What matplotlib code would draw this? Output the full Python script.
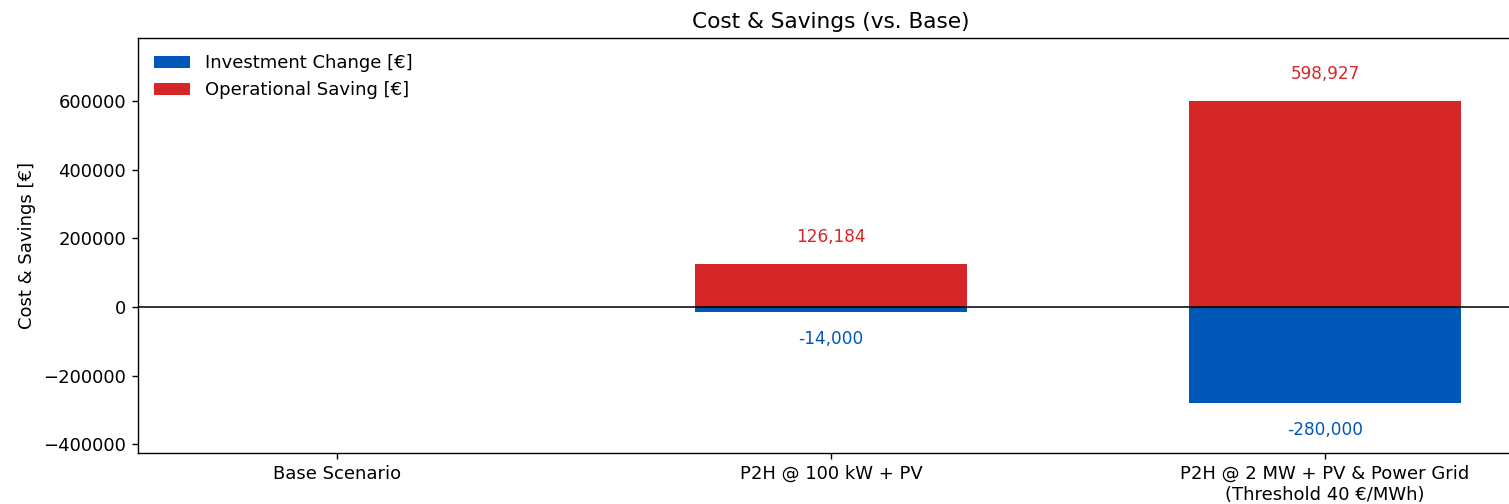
import numpy as np
import matplotlib
matplotlib.use("Agg")
import matplotlib.pyplot as plt

plt.rcParams["font.size"] = 10.4

# === Data ===
scenarios = ["Base Scenario", "P2H @ 100 kW + PV",
             "P2H @ 2 MW + PV & Power Grid\n(Threshold 40 €/MWh)"]
investment_change = [0, -14000, -280000]
operational_saving = [0, 126184, 598927]

blue = "#0057b8"
red = "#d62728"

# === Plot ===
fig = plt.figure(figsize=(1509 / 125, 504 / 125), dpi=125)
ax = fig.add_axes([0.0915, 0.1012, 0.9185, 0.8234])

x = np.arange(len(scenarios))
width = 0.55
ax.bar(x, investment_change, width, color=blue, label="Investment Change [€]")
ax.bar(x, operational_saving, width, color=red, label="Operational Saving [€]")
ax.axhline(0, color="black", linewidth=0.9)

# value labels (skip zeros)
for xi, v in zip(x, operational_saving):
    if v != 0:
        ax.annotate(f"{v:,.0f}", (xi, v), xytext=(0, 15.5), textcoords="offset points",
                    ha="center", va="center", color=red, fontsize=9.7)
for xi, v in zip(x, investment_change):
    if v != 0:
        ax.annotate(f"{v:,.0f}", (xi, v), xytext=(0, -15.5), textcoords="offset points",
                    ha="center", va="center", color=blue, fontsize=9.7)

# === Layout ===
ax.set_title("Cost & Savings (vs. Base)")
ax.set_ylabel("Cost & Savings [€]")
ax.set_xticks(x)
ax.set_xticklabels(scenarios)
ax.set_xlim(-0.403, 2.403)
ax.set_ylim(-425000, 783000)
ax.legend(loc="upper left", frameon=False)
fig.savefig("out.png", dpi=125)
